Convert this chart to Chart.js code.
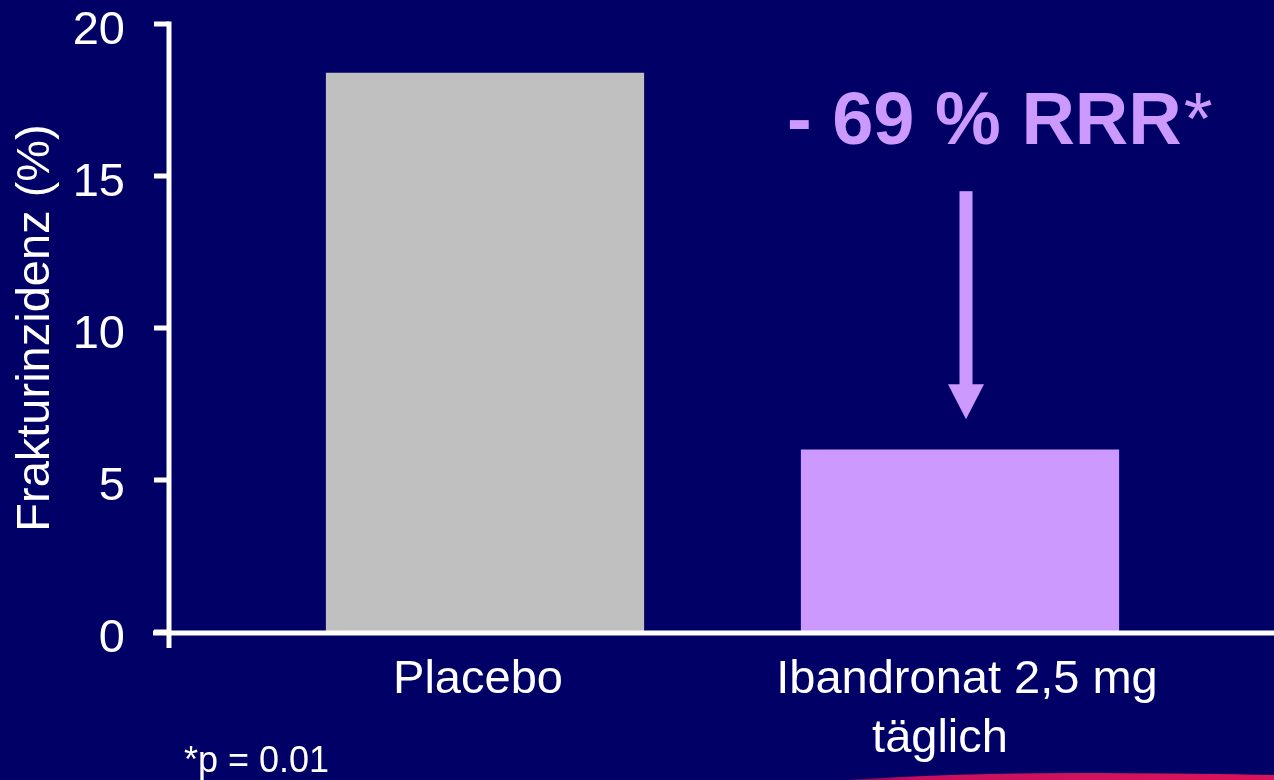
<!DOCTYPE html>
<html>
<head>
<meta charset="utf-8">
<script src="https://cdn.jsdelivr.net/npm/chart.js@4.4.1/dist/chart.umd.min.js"></script>
<style>
  html, body { margin: 0; padding: 0; background: #000066; overflow: hidden; }
  canvas { display: block; }
</style>
</head>
<body>
<canvas id="chart" width="1274" height="780"></canvas>
<script>
// Fracture incidence, placebo vs. daily ibandronate
const categories = ['Placebo', ['Ibandronat 2,5 mg', 'täglich']];
const incidence = [18.4, 6.0];
const barColors = ['#C0C0C0', '#CC99FF'];
const yTickValues = [0, 5, 10, 15, 20];
const yTitle = 'Frakturinzidenz (%)';
const reductionText = '- 69 % RRR';
const reductionMark = '*';
const footnoteText = '*p = 0.01';
// Arrow runs from this value down to its tip (y units), over the treated bar
const arrowStart = 14.5;
const arrowTip = 7.0;
const arrowHeadBase = 8.15;

const FONT = "'Liberation Sans', Arial, Helvetica, sans-serif";
const WHITE = '#FFFFFF';
const LAVENDER = '#CC99FF';

// Axis lines sit left of the plotting band, drawn by hand
const AXIS_X = 169;
const TICK_LEFT = 154;
const Y_LABEL_RIGHT = 125;
// per-line horizontal nudges of the category labels (text-box alignment)
const xLabelNudge = [[-7], [7, -20]];

const axesPlugin = {
  id: 'slideAxes',
  afterDatasetsDraw(chart) {
    const { ctx } = chart;
    const x = chart.scales.x;
    const y = chart.scales.y;
    const y0 = y.getPixelForValue(0);
    const yTop = y.getPixelForValue(20);
    ctx.save();
    ctx.strokeStyle = WHITE;
    ctx.lineWidth = 5;
    ctx.lineCap = 'butt';
    // vertical axis
    ctx.beginPath();
    ctx.moveTo(AXIS_X, yTop - 2.5);
    ctx.lineTo(AXIS_X, y0 + 16);
    ctx.stroke();
    // tick marks and their labels
    ctx.fillStyle = WHITE;
    ctx.font = `47px ${FONT}`;
    ctx.textAlign = 'right';
    ctx.textBaseline = 'alphabetic';
    y.ticks.forEach(t => {
      const py = y.getPixelForValue(t.value);
      ctx.beginPath();
      ctx.moveTo(TICK_LEFT, py);
      ctx.lineTo(AXIS_X, py);
      ctx.stroke();
      ctx.fillText(String(t.value), Y_LABEL_RIGHT, py + 20);
    });
    // horizontal axis
    ctx.beginPath();
    ctx.moveTo(TICK_LEFT - 1, y0 + 1);
    ctx.lineTo(chart.width, y0 + 1);
    ctx.stroke();
    // category labels
    ctx.textAlign = 'center';
    ctx.font = `47px ${FONT}`;
    categories.forEach((lab, i) => {
      const lines = Array.isArray(lab) ? lab : [lab];
      const cx = x.getPixelForValue(i);
      lines.forEach((ln, j) => {
        ctx.fillText(ln, cx + xLabelNudge[i][j], y0 + 61 + j * 59);
      });
    });
    ctx.restore();
  }
};

const annotationPlugin = {
  id: 'reductionNote',
  afterDraw(chart) {
    const { ctx } = chart;
    const x = chart.scales.x;
    const y = chart.scales.y;
    const cx = x.getPixelForValue(1) + 6;
    ctx.save();
    ctx.fillStyle = LAVENDER;
    // headline: bold text followed by a lighter asterisk
    const base = y.getPixelForValue(16.05);
    ctx.textAlign = 'left';
    ctx.textBaseline = 'alphabetic';
    ctx.font = `bold 74px ${FONT}`;
    ctx.fillText(reductionText, 787, base);
    const w = ctx.measureText(reductionText).width;
    ctx.font = `74px ${FONT}`;
    ctx.fillText(reductionMark, 787 + w + 2, base);
    // arrow shaft
    const sTop = y.getPixelForValue(arrowStart);
    const hBase = y.getPixelForValue(arrowHeadBase);
    const tip = y.getPixelForValue(arrowTip);
    ctx.fillRect(cx - 6.5, sTop, 13, hBase - sTop + 1);
    // arrow head
    ctx.beginPath();
    ctx.moveTo(cx - 18, hBase);
    ctx.lineTo(cx + 18, hBase);
    ctx.lineTo(cx, tip);
    ctx.closePath();
    ctx.fill();

    // footnote
    ctx.fillStyle = WHITE;
    ctx.font = `36px ${FONT}`;
    ctx.fillText(footnoteText, 184, 772);

    // decorative swoosh at the bottom edge
    const g = ctx.createLinearGradient(830, 0, 1274, 0);
    g.addColorStop(0, 'rgba(150,10,90,0.6)');
    g.addColorStop(0.2, '#C8105E');
    g.addColorStop(1, '#D8145A');
    ctx.fillStyle = g;
    ctx.beginPath();
    ctx.moveTo(830, 781);
    ctx.quadraticCurveTo(960, 772, 1100, 773);
    ctx.quadraticCurveTo(1200, 773.5, 1274, 775);
    ctx.lineTo(1274, 781);
    ctx.closePath();
    ctx.fill();
    ctx.restore();
  }
};

new Chart(document.getElementById('chart'), {
  type: 'bar',
  data: {
    labels: categories,
    datasets: [{
      data: incidence,
      backgroundColor: barColors,
      borderWidth: 0,
      categoryPercentage: 1.0,
      barPercentage: 0.67
    }]
  },
  options: {
    responsive: false,
    animation: false,
    events: [],
    layout: { padding: { top: 24, right: 76.5, left: 0, bottom: 0 } },
    plugins: {
      legend: { display: false },
      tooltip: { enabled: false }
    },
    scales: {
      x: {
        grid: { display: false, drawTicks: false },
        border: { display: false },
        ticks: { display: false },
        afterFit(s) { s.height = 148; s.paddingLeft = 0; s.paddingRight = 0; }
      },
      y: {
        min: 0,
        max: 20,
        grid: { display: false, drawTicks: false },
        border: { display: false },
        ticks: { display: false },
        afterBuildTicks(s) { s.ticks = yTickValues.map(v => ({ value: v })); },
        title: {
          display: true,
          text: yTitle,
          color: WHITE,
          font: { family: FONT, size: 47 },
          padding: { top: 8, bottom: 0 }
        },
        afterFit(s) { s.width = 247.5; s.paddingTop = 0; s.paddingBottom = 0; }
      }
    }
  },
  plugins: [axesPlugin, annotationPlugin]
});
</script>
</body>
</html>
